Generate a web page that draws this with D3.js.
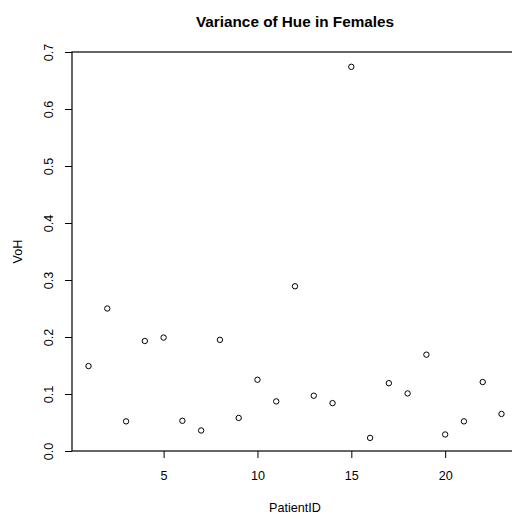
<!DOCTYPE html>
<html>
<head>
<meta charset="utf-8">
<script src="https://cdn.jsdelivr.net/npm/d3@7"></script>
<style>
  body { margin: 0; background: #fff; }
  svg { display: block; font-family: "Liberation Sans", Arial, sans-serif; }
</style>
</head>
<body>
<div id="chart"></div>
<script>
const patientIds = d3.range(1, 24)
const voh = [0.149, 0.250, 0.052, 0.193, 0.199, 0.053, 0.036, 0.195, 0.058, 0.125,
  0.087, 0.289, 0.097, 0.084, 0.674, 0.023, 0.119, 0.101, 0.169, 0.029,
  0.052, 0.121, 0.065]
const xTicks = [5, 10, 15, 20]
const yTicks = [0, 0.1, 0.2, 0.3, 0.4, 0.5, 0.6, 0.7]

const width = 512
const height = 519
// plot box edges (right edge falls just outside the window, as in the original)
const boxLeft = 72, boxRight = 518, boxTop = 52, boxBottom = 451
const labelSize = "12.6px"

const svg = d3.select("#chart")
  .append("svg")
  .attr("width", width)
  .attr("height", height)

// R style padding of 4% on x, exact range on y
const pad = (23 - 1) * 0.04
const x = d3.scaleLinear().domain([1 - pad, 23 + pad]).range([boxLeft, boxRight])
const y = d3.scaleLinear().domain([0, 0.7]).range([boxBottom, boxTop])

svg.append("rect")
  .attr("x", boxLeft)
  .attr("y", boxTop)
  .attr("width", boxRight - boxLeft)
  .attr("height", boxBottom - boxTop)
  .attr("fill", "none")
  .attr("stroke", "#000")
  .attr("stroke-width", 1.2)

const xAxis = svg.append("g")
  .attr("transform", `translate(0,${boxBottom})`)
  .call(d3.axisBottom(x).tickValues(xTicks).tickSize(7).tickPadding(13).tickFormat(d3.format("d")))
xAxis.select(".domain").remove()

const yAxis = svg.append("g")
  .attr("transform", `translate(${boxLeft},0)`)
  .call(d3.axisLeft(y).tickValues(yTicks).tickSize(7).tickFormat(d3.format(".1f")))
yAxis.select(".domain").remove()

svg.selectAll(".tick line").attr("stroke", "#000")
svg.selectAll(".tick text")
  .attr("fill", "#000")
  .style("font-size", labelSize)
  .style("font-family", "Liberation Sans, Arial, sans-serif")

yAxis.selectAll(".tick text")
  .attr("x", null)
  .attr("dy", null)
  .attr("text-anchor", "middle")
  .attr("transform", "translate(-19,0) rotate(-90)")

svg.selectAll("circle.pt")
  .data(voh)
  .join("circle")
  .attr("class", "pt")
  .attr("cx", (d, i) => x(patientIds[i]))
  .attr("cy", (d) => y(d))
  .attr("r", 2.7)
  .attr("fill", "none")
  .attr("stroke", "#000")
  .attr("stroke-width", 1)

svg.append("text")
  .attr("x", (boxLeft + boxRight) / 2)
  .attr("y", 26.5)
  .attr("text-anchor", "middle")
  .style("font-size", "15.3px")
  .style("font-weight", "bold")
  .text("Variance of Hue in Females")

svg.append("text")
  .attr("x", (boxLeft + boxRight) / 2)
  .attr("y", 511.5)
  .attr("text-anchor", "middle")
  .style("font-size", labelSize)
  .text("PatientID")

svg.append("text")
  .attr("transform", `translate(22,${(boxTop + boxBottom) / 2}) rotate(-90)`)
  .attr("text-anchor", "middle")
  .style("font-size", labelSize)
  .text("VoH")
</script>
</body>
</html>
